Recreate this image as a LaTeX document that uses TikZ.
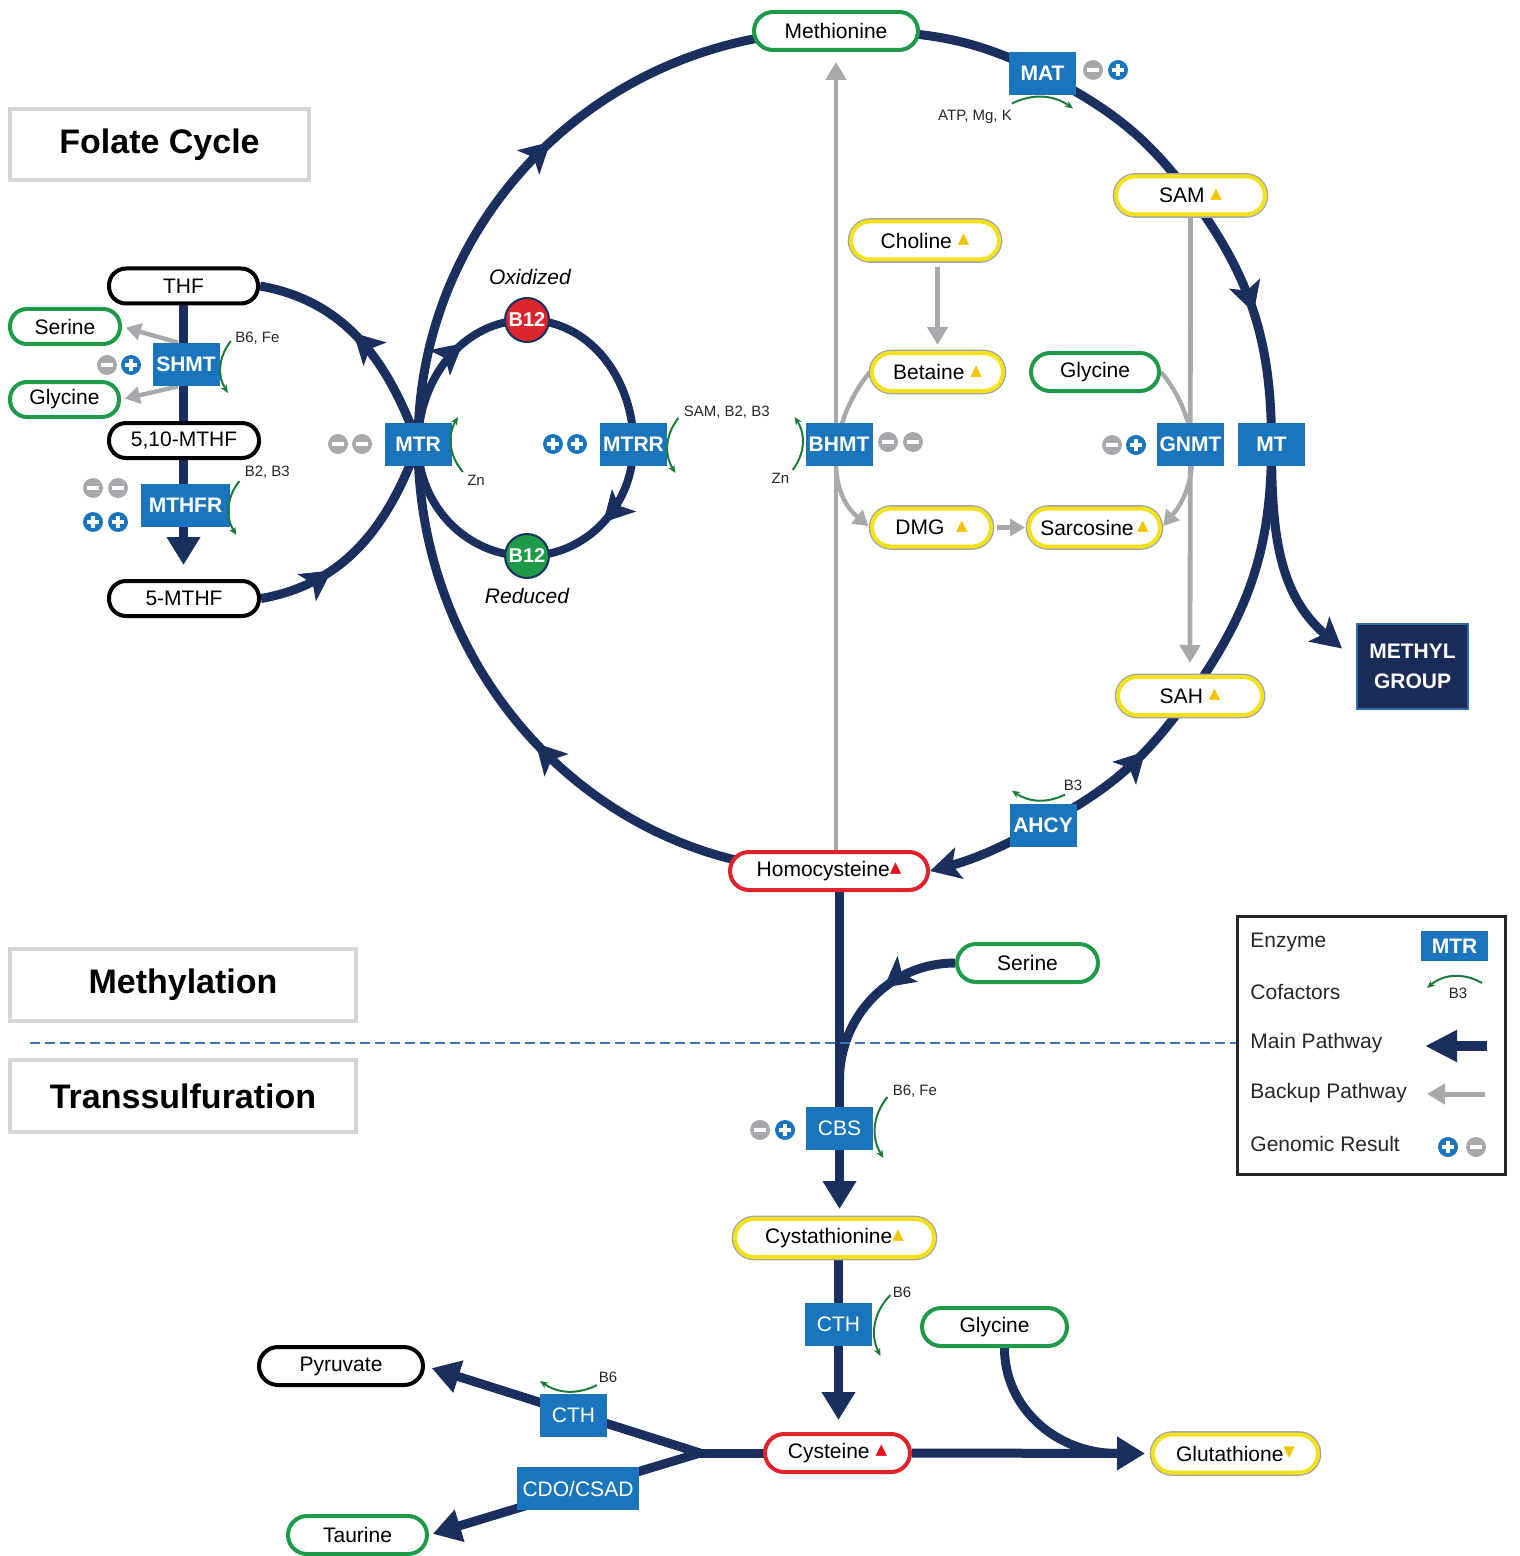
\documentclass[tikz,border=0pt]{standalone}
\usepackage{fontspec}
\setmainfont{Liberation Sans}
\newfontfamily\glyphfont{DejaVu Sans}
\usepackage{tikz}
\usetikzlibrary{arrows.meta,positioning,calc,backgrounds,decorations.markings}

\definecolor{PathNavy}{HTML}{1B2F5F}
\definecolor{EnzBlue}{HTML}{1B75BC}
\definecolor{PillGreen}{HTML}{1E9A48}
\definecolor{PillRed}{HTML}{E0232B}
\definecolor{PillYellow}{HTML}{F2E21C}
\definecolor{RimGray}{HTML}{A3A5A8}
\definecolor{BackGray}{HTML}{A7A9AC}
\definecolor{CofGreen}{HTML}{1E7B3C}
\definecolor{DotGray}{HTML}{A7A9AC}
\definecolor{HeadGray}{HTML}{D6D6D6}
\definecolor{DashBlue}{HTML}{3B78B5}
\definecolor{TriYellow}{HTML}{F5C400}
\definecolor{TriRed}{HTML}{E8101A}
\definecolor{B12Red}{HTML}{D9262C}
\definecolor{B12Green}{HTML}{1E9A48}
\definecolor{MethylNavy}{HTML}{1B2B58}
\definecolor{MethylEdge}{HTML}{2F6AA8}

% small up / down marks after a metabolite
\newcommand{\trup}[1]{\raisebox{2.2pt}{\glyphfont\fontsize{7.5}{7.5}\selectfont\textcolor{#1}{▲}}}
\newcommand{\trdown}[1]{\raisebox{2.2pt}{\glyphfont\fontsize{7.5}{7.5}\selectfont\textcolor{#1}{▼}}}

\tikzset{
    % Base pill style
    pill/.style={
        rectangle,
        rounded corners=9.5pt,
        fill=white,
        line width=2pt,
        minimum height=19pt,
        inner sep=1pt,
        font=\fontsize{10.5}{12}\selectfont
    },
    folatepill/.style={
        minimum height=17.5pt,
        rounded corners=8.5pt
    },
    greenpill/.style={pill, draw=PillGreen},
    blackpill/.style={pill, draw=black},
    redpill/.style={pill, draw=PillRed},
    yellowpill/.style={
        pill,
        draw=PillYellow,
        preaction={draw=RimGray, line width=3.3pt}
    },
    % Enzyme box
    enzyme/.style={
        rectangle,
        fill=EnzBlue,
        text=white,
        minimum width=33.5pt,
        minimum height=21.5pt,
        inner sep=1pt,
        font=\bfseries\fontsize{10.5}{12}\selectfont
    },
    enzymelight/.style={
        enzyme,
        font=\fontsize{10.5}{12}\selectfont
    },
    % B12 ball
    b12ball/.style={
        circle,
        draw=PathNavy,
        line width=1pt,
        minimum size=22pt,
        inner sep=0pt,
        text=white,
        font=\bfseries\fontsize{10}{12}\selectfont
    },
    methylbox/.style={
        rectangle,
        fill=MethylNavy,
        draw=MethylEdge,
        line width=1pt,
        text=white,
        align=center,
        minimum width=55.5pt,
        minimum height=42.5pt,
        font=\bfseries\fontsize{10.5}{15}\selectfont
    },
    % Heading box
    headbox/.style={
        rectangle,
        draw=HeadGray,
        line width=2pt,
        fill=white,
        inner sep=0pt,
        font=\bfseries\fontsize{17}{20}\selectfont
    },
    italiclabel/.style={font=\itshape\fontsize{10.5}{12}\selectfont},
    % Genomic result dots
    minusdot/.style={
        circle,
        fill=DotGray,
        minimum size=10pt,
        inner sep=0pt,
        path picture={\draw[white, line width=1.8pt]
            ([xshift=-3.2pt]path picture bounding box.center) -- ([xshift=3.2pt]path picture bounding box.center);}
    },
    plusdot/.style={
        circle,
        fill=EnzBlue,
        minimum size=10pt,
        inner sep=0pt,
        path picture={\draw[white, line width=1.8pt]
            ([xshift=-3.2pt]path picture bounding box.center) -- ([xshift=3.2pt]path picture bounding box.center)
            ([yshift=-3.2pt]path picture bounding box.center) -- ([yshift=3.2pt]path picture bounding box.center);}
    },
    % Cofactor arcs
    cofarc/.style={
        draw=CofGreen,
        line width=1pt,
        -{Stealth[length=4pt,width=3.5pt]}
    },
    coftext/.style={
        font=\fontsize{7.5}{9}\selectfont,
        text=black!85,
        inner sep=0pt
    },
    % Pathway lines
    mainline/.style={draw=PathNavy, line width=4.5pt},
    loopline/.style={draw=PathNavy, line width=4pt},
    mainhead/.style={-{Triangle[width=16pt,length=14pt]}},
    swepthead/.style={-{Stealth[length=15pt,width=16pt,inset=3.5pt]}},
    midarrow/.style={
        postaction={decorate},
        decoration={markings, mark=at position #1 with {\arrow{Stealth[length=15pt,width=16pt,inset=3.5pt]}}}
    },
    midarrow/.default=0.5,
    revarrow/.style={
        postaction={decorate},
        decoration={markings, mark=at position #1 with {\arrowreversed{Stealth[length=15pt,width=16pt,inset=3.5pt]}}}
    },
    backarrow/.style={
        draw=BackGray,
        line width=2.4pt,
        -{Triangle[width=10pt,length=9pt]}
    },
    smallback/.style={
        draw=BackGray,
        line width=2.2pt,
        -{Triangle[width=8.5pt,length=7.5pt]}
    },
    % Legend
    legendbox/.style={
        rectangle,
        draw=black!85,
        line width=1.5pt,
        minimum width=134pt,
        minimum height=129pt
    },
    legtext/.style={
        anchor=west,
        inner sep=0pt,
        text=black!85,
        font=\fontsize{10.5}{12}\selectfont
    },
    dashline/.style={draw=DashBlue, line width=0.6pt, dash pattern=on 5pt off 2.5pt}
}

\begin{document}
\begin{tikzpicture}[x=0.5pt, y=0.5pt]
    \useasboundingbox (0,0) rectangle (1519,-1556);

    % Headings
    \node[headbox, minimum width=149.5pt, minimum height=35.5pt] (folatehead) at (159.5,-144.5) {Folate Cycle};
    \node[headbox, minimum width=173pt, minimum height=36pt] (methhead) at (183,-985) {Methylation};
    \node[headbox, minimum width=173pt, minimum height=36pt] (transhead) at (183,-1096) {Transsulfuration};

    % Folate cycle
    \node[blackpill, folatepill, minimum width=74.5pt] (thf) at (183.5,-286) {THF};
    \node[greenpill, folatepill, minimum width=55pt] (serinea) at (65,-326.5) {Serine};
    \node[greenpill, folatepill, minimum width=54.5pt] (glycinea) at (64.5,-399.5) {Glycine};
    \node[blackpill, folatepill, minimum width=75pt] (mthfa) at (184,-440.5) {5,10-MTHF};
    \node[blackpill, folatepill, minimum width=75pt] (mthfb) at (184,-598.5) {5-MTHF};
    \node[enzyme] (shmt) at (186,-364.5) {SHMT};
    \node[enzyme, minimum width=44.5pt] (mthfr) at (185.5,-505) {MTHFR};

    % Methylation cycle
    \node[greenpill, minimum width=82pt] (methionine) at (836,-31) {Methionine};
    \node[enzyme] (mat) at (1042.5,-73.5) {MAT};
    \node[yellowpill, minimum width=74.5pt] (sam) at (1190.5,-195.5) {SAM\ \trup{TriYellow}};
    \node[enzyme] (mt) at (1271.5,-444.5) {MT};
    \node[yellowpill, minimum width=72pt] (sah) at (1190,-696) {SAH \trup{TriYellow}};
    \node[enzyme] (ahcy) at (1043,-825) {AHCY};
    \node[redpill, minimum width=99pt] (hcy) at (829,-871) {Homocysteine\trup{TriRed}};
    \node[enzyme] (mtr) at (418,-444) {MTR};
    \node[enzyme] (mtrr) at (633.5,-444.5) {MTRR};
    \node[b12ball, fill=B12Red] (b12ox) at (527,-320) {B12};
    \node[b12ball, fill=B12Green] (b12red) at (527,-556) {B12};
    \node[italiclabel] (oxlabel) at (530,-277) {Oxidized};
    \node[italiclabel] (redlabel) at (527,-596) {Reduced};
    \node[methylbox] (methyl) at (1412.5,-666.5) {METHYL\\GROUP};

    % Betaine shunt
    \node[yellowpill, minimum width=74pt] (choline) at (925,-240.5) {Choline \trup{TriYellow}};
    \node[yellowpill, minimum width=65.5pt] (betaine) at (937.5,-372) {Betaine \trup{TriYellow}};
    \node[greenpill, minimum width=64pt] (glycineb) at (1095,-372) {Glycine};
    \node[yellowpill, minimum width=59.5pt] (dmg) at (931.5,-527.5) {DMG\ \ \trup{TriYellow}};
    \node[yellowpill, minimum width=65.5pt] (sarcosine) at (1094.5,-527.5) {Sarcosine\,\trup{TriYellow}};
    \node[enzyme] (bhmt) at (839,-444) {BHMT};
    \node[enzyme] (gnmt) at (1190.5,-444.5) {GNMT};

    % Transsulfuration
    \node[greenpill, minimum width=70.5pt] (serineb) at (1027.5,-963) {Serine};
    \node[enzymelight] (cbs) at (839.5,-1128.5) {CBS};
    \node[yellowpill, minimum width=99.5pt] (cysta) at (834.5,-1238) {Cystathionine\trup{TriYellow}};
    \node[enzymelight] (ctha) at (838.5,-1324) {CTH};
    \node[greenpill, minimum width=72.5pt] (glycinec) at (994.5,-1327) {Glycine};
    \node[redpill, minimum width=72.5pt] (cysteine) at (837.5,-1453) {Cysteine \trup{TriRed}};
    \node[yellowpill, minimum width=82.5pt] (gluta) at (1235.5,-1453.5) {Glutathione\trdown{TriYellow}};
    \node[blackpill, minimum width=82pt] (pyruvate) at (341,-1366) {Pyruvate};
    \node[greenpill, minimum width=69.5pt] (taurine) at (357.5,-1535) {Taurine};
    \node[enzymelight] (cthb) at (573.5,-1415) {CTH};
    \node[enzymelight, minimum width=61pt] (cdo) at (578,-1488.5) {CDO/CSAD};

    % Genomic results
    \node[minusdot] (matm) at (1093,-70) {};
    \node[plusdot] (matp) at (1118,-70) {};
    \node[minusdot] (shmtm) at (107,-365) {};
    \node[plusdot] (shmtp) at (131,-365) {};
    \node[minusdot] (mthfrma) at (93,-488) {};
    \node[minusdot] (mthfrmb) at (118,-488) {};
    \node[plusdot] (mthfrpa) at (93,-522) {};
    \node[plusdot] (mthfrpb) at (118,-522) {};
    \node[minusdot] (mtrma) at (338,-444) {};
    \node[minusdot] (mtrmb) at (362,-444) {};
    \node[plusdot] (mtrrpa) at (553,-444) {};
    \node[plusdot] (mtrrpb) at (577,-444) {};
    \node[minusdot] (bhmtma) at (888,-442) {};
    \node[minusdot] (bhmtmb) at (913,-442) {};
    \node[minusdot] (gnmtm) at (1112,-445) {};
    \node[plusdot] (gnmtp) at (1136,-445) {};
    \node[minusdot] (cbsm) at (760,-1130) {};
    \node[plusdot] (cbsp) at (785,-1130) {};

    % Legend
    \node[legendbox] (legend) at (1371,-1045) {};
    \node[legtext] (legenzyme) at (1250,-942) {Enzyme};
    \node[legtext] (legcofac) at (1250,-992) {Cofactors};
    \node[legtext] (legmain) at (1250,-1043) {Main Pathway};
    \node[legtext] (legback) at (1250,-1093) {Backup Pathway};
    \node[legtext] (leggeno) at (1250,-1144) {Genomic Result};
    \node[enzyme, minimum height=15pt] (legmtr) at (1454.5,-946) {MTR};
    \node[plusdot] (legplus) at (1448,-1147) {};
    \node[minusdot] (legminus) at (1476,-1147) {};
    \coordinate (legcofa) at (1482,-983);
    \coordinate (legcofb) at (1427,-988);
    \node[coftext] (legbthree) at (1458,-993) {B3};
    \coordinate (legmaina) at (1487,-1046);
    \coordinate (legmainb) at (1425,-1046);
    \coordinate (legbacka) at (1485,-1094);
    \coordinate (legbackb) at (1427,-1094);

    % Junctions
    \coordinate (sjoin) at (839.5,-1080);
    \coordinate (split) at (700,-1453);
    \coordinate (gjoin) at ([xshift=-17pt]gluta.west);
    \coordinate (mtip) at ([xshift=-7pt,yshift=9pt]methyl.west);
    \coordinate (dashstart) at (30,-1043);

    \begin{scope}[on background layer]
        % Methylation cycle
        \draw[mainline, midarrow=0.5] (hcy.center) to[out=180,in=-90] (mtr.center);
        \draw[mainline, midarrow=0.52] (mtr.center) to[out=90,in=180] (methionine.center);
        \draw[mainline] (methionine.center) to[out=0,in=152.5] (mat.center);
        \draw[mainline] (mat.center) to[out=-27.5,in=126.5] (sam.center);
        \draw[mainline, midarrow=0.5] (sam.center) to[out=-53.5,in=90] (mt.center);
        \draw[mainline] (mt.center) to[out=-90,in=54.8] (sah.center);
        \draw[mainline, revarrow=0.36] (sah.center) to[out=-125.2,in=28] (ahcy.center);
        \draw[mainline, swepthead] (ahcy.center) to[out=-152,in=15] (hcy.east);
        \draw[mainline, swepthead] (mt.center) to[out=-90,in=140] (mtip);

        % B12 loop
        \draw[loopline, midarrow=0.62] (mtr.center) to[out=90,in=180] (b12ox.center);
        \draw[loopline] (b12ox.center) to[out=0,in=90] (mtrr.center);
        \draw[loopline, midarrow=0.5] (mtrr.center) to[out=-90,in=0] (b12red.center);
        \draw[loopline] (b12red.center) to[out=180,in=-90] (mtr.center);

        % Folate cycle
        \draw[mainline, midarrow=0.55] (mtr.center) to[out=110,in=-10] (thf.east);
        \draw[mainline, midarrow=0.33] (mthfb.east) to[out=10,in=-110] (mtr.center);
        \draw[mainline, mainhead, shorten >=7pt] (thf.center) -- (thf |- mthfb.north);
        \draw[smallback, shorten >=2pt] ([xshift=-4pt]shmt.north) -- (serinea.east);
        \draw[smallback, shorten >=2pt] ([xshift=-4pt]shmt.south) -- (glycinea.east);

        % Backup pathways
        \draw[backarrow, shorten >=5pt] (methionine |- hcy.north) -- (methionine.south);
        \draw[backarrow, shorten >=6pt] (sam.south) -- (sah.north);
        \draw[backarrow, shorten <=3pt, shorten >=3pt] (betaine |- choline.south) -- (betaine.north);
        \draw[smallback, shorten >=1pt] (betaine.west) to[out=230,in=140] (dmg.west);
        \draw[smallback, shorten <=2pt, shorten >=1pt] (dmg.east) -- (sarcosine.west);
        \draw[smallback, shorten >=1pt] (glycineb.east) to[out=-50,in=50] (sarcosine.east);

        % Transsulfuration
        \draw[mainline, mainhead, shorten >=4pt] (cbs |- hcy.south) -- (cbs |- cysta.north);
        \draw[mainline, midarrow=0.42] (serineb.west) to[out=180,in=90] (sjoin);
        \draw[mainline, mainhead, shorten >=6pt] (ctha |- cysta.south) -- (ctha |- cysteine.north);
        \draw[mainline, mainhead, shorten >=3pt] (cysteine.east) -- (gluta.west);
        \draw[mainline] ([xshift=5pt]glycinec.south) to[out=-90,in=180] (gjoin);
        \draw[mainline, line cap=round] (cysteine.center) -- (split);
        \draw[mainline, mainhead, shorten >=3.5pt] (split) -- (pyruvate.east);
        \draw[mainline, mainhead, shorten >=2pt] (split) -- (taurine.east);
    \end{scope}

    % Cofactors
    \draw[cofarc] ([shift={(5.5pt,11.75pt)}]shmt.east) to[bend right=35] ([shift={(4pt,-14.25pt)}]shmt.east);
    \node[coftext, anchor=west] (shmtcof) at ([shift={(7.5pt,13.25pt)}]shmt.east) {B6, Fe};
    \draw[cofarc] ([shift={(4.5pt,12pt)}]mthfr.east) to[bend right=35] ([shift={(3pt,-15pt)}]mthfr.east);
    \node[coftext, anchor=west] (mthfrcof) at ([shift={(7pt,16.5pt)}]mthfr.east) {B2, B3};
    \draw[cofarc] ([shift={(5.5pt,-14pt)}]mtr.east) to[bend left=35] ([shift={(3pt,13.5pt)}]mtr.east);
    \node[coftext, anchor=west] (mtrcof) at ([shift={(7.5pt,-18pt)}]mtr.east) {Zn};
    \draw[cofarc] ([shift={(5.5pt,13.25pt)}]mtrr.east) to[bend right=35] ([shift={(4pt,-14.25pt)}]mtrr.east);
    \node[coftext, anchor=west] (mtrrcof) at ([shift={(8pt,16.25pt)}]mtrr.east) {SAM, B2, B3};
    \draw[cofarc] ([shift={(-6.25pt,-13pt)}]bhmt.west) to[bend right=35] ([shift={(-5.25pt,13.5pt)}]bhmt.west);
    \node[coftext, anchor=east] (bhmtcof) at ([shift={(-7.75pt,-17pt)}]bhmt.west) {Zn};
    \draw[cofarc] ([shift={(-15.25pt,-4pt)}]mat.south) to[bend left=30] ([shift={(15.25pt,-6.5pt)}]mat.south);
    \node[coftext] (matcof) at ([shift={(-33.75pt,-11pt)}]mat.south) {ATP, Mg, K};
    \draw[cofarc] ([shift={(11pt,4.25pt)}]ahcy.north) to[bend left=30] ([shift={(-15.5pt,6.25pt)}]ahcy.north);
    \node[coftext] (ahcycof) at ([shift={(15pt,8.75pt)}]ahcy.north) {B3};
    \draw[cofarc] ([shift={(7pt,15.75pt)}]cbs.east) to[bend right=35] ([shift={(5pt,-14.75pt)}]cbs.east);
    \node[coftext, anchor=west] (cbscof) at ([shift={(9.5pt,18.75pt)}]cbs.east) {B6, Fe};
    \draw[cofarc] ([shift={(9pt,14.5pt)}]ctha.east) to[bend right=35] ([shift={(4pt,-16pt)}]ctha.east);
    \node[coftext, anchor=west] (cthacof) at ([shift={(10pt,16pt)}]ctha.east) {B6};
    \draw[cofarc] ([shift={(11.75pt,4pt)}]cthb.north) to[bend left=30] ([shift={(-16.75pt,6pt)}]cthb.north);
    \node[coftext] (cthbcof) at ([shift={(17.25pt,8pt)}]cthb.north) {B6};

    % Legend marks
    \draw[cofarc] (legcofa) to[bend right=35] (legcofb);
    \draw[mainline, line width=5pt, -{Triangle[width=15pt,length=16pt]}] (legmaina) -- (legmainb);
    \draw[backarrow, line width=2.5pt] (legbacka) -- (legbackb);

    % Section divider
    \draw[dashline] (dashstart) -- (dashstart -| legend.west);
\end{tikzpicture}
\end{document}
